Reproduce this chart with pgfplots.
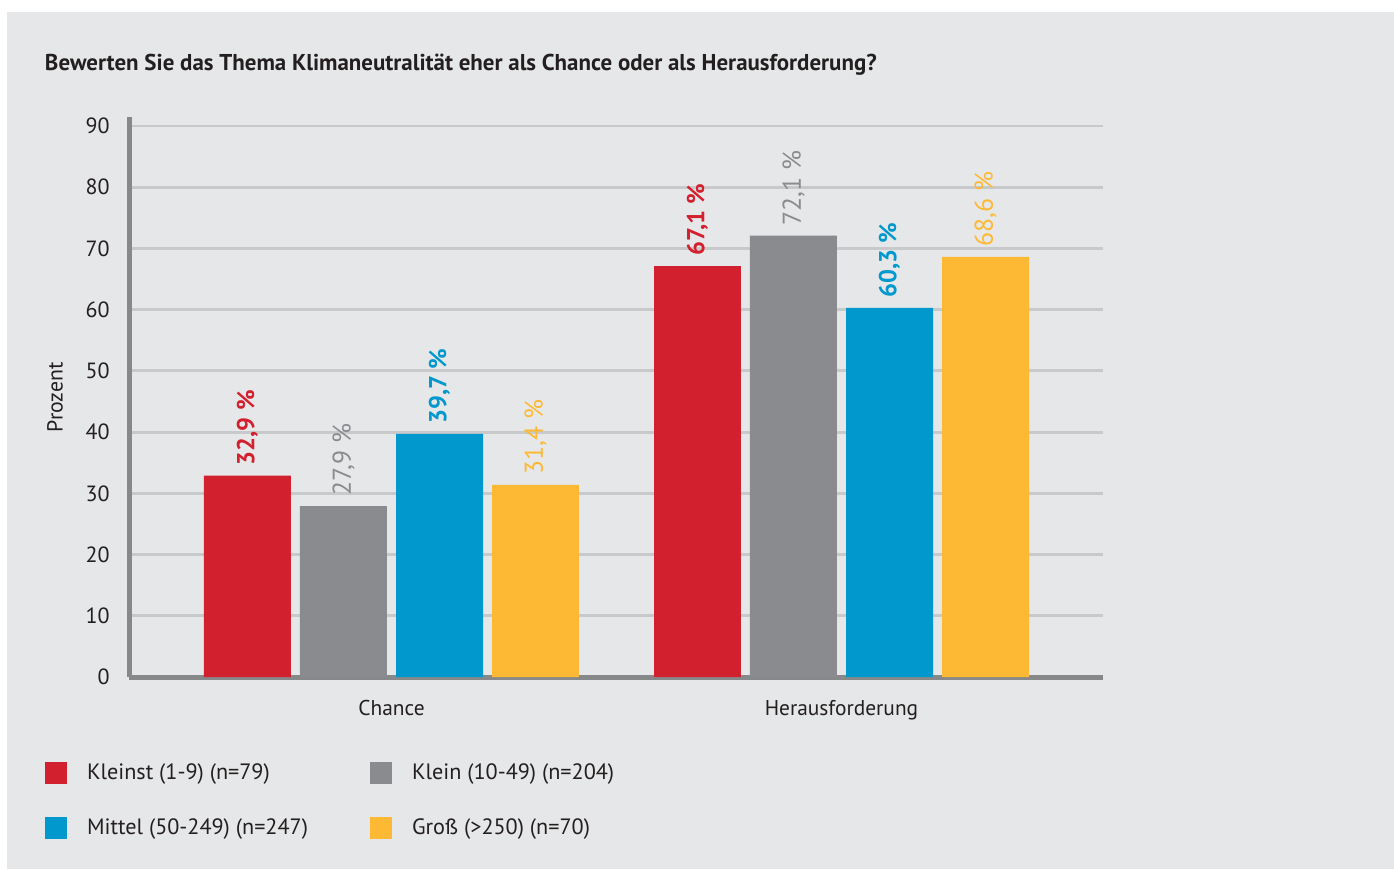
\documentclass[border=0pt]{standalone}
\usepackage{fontspec}
\setmainfont{PT Sans}
\usepackage{pgfplots}
\pgfplotsset{compat=1.18}
\definecolor{bg}{HTML}{E6E7E8}
\definecolor{cred}{HTML}{D2202F}
\definecolor{cgray}{HTML}{8A8B8E}
\definecolor{cblue}{HTML}{0098CD}
\definecolor{cyellow}{HTML}{FDB933}
\definecolor{gridc}{HTML}{C8C9CB}
\definecolor{axc}{HTML}{87888A}
\definecolor{txt}{HTML}{231F20}
\pgfplotsset{
  sqlegend/.style={legend image code/.code={\fill[##1] (0pt,-5.5pt) rectangle (11pt,5.5pt);}},
  vlabel/.style 2 args={nodes near coords={\pgfmathprintnumber[fixed,fixed zerofill,precision=1,use comma,assume math mode=true]{\pgfplotspointmeta}~\%},
    every node near coord/.append style={rotate=90, anchor=west, inner xsep=5pt, inner ysep=0pt, font=#2, text=#1}},
}
\begin{document}
\begin{tikzpicture}
\path[use as bounding box] (0,0) rectangle (697pt,434.5pt);
\fill[white] (0,0) rectangle (697pt,434.5pt);
\fill[bg] (3.5pt,0) rectangle (697pt,428.5pt);
\node[anchor=base west, inner sep=0pt, font=\fontsize{11.45}{13}\selectfont\bfseries, text=txt] at (22.3pt,399pt) {Bewerten Sie das Thema Klimaneutralität eher als Chance oder als Herausforderung?};
\begin{axis}[
  at={(64.5pt,96pt)}, anchor=south west,
  scale only axis, width=487pt, height=279.8pt,
  xmin=-0.5833, xmax=1.5811, ymin=0, ymax=91.4,
  axis x line*=bottom, axis y line*=left,
  axis line style={line width=2.5pt, axc},
  bar width=0.1933,
  xtick={0,1}, xticklabels={Chance,Herausforderung},
  ytick={0,10,...,90},
  major tick length=0pt,
  ymajorgrids, grid style={line width=1.4pt, gridc},
  /pgf/number format/assume math mode=true,
  yticklabel style={anchor=east, inner sep=0pt, xshift=-9.5pt, font=\fontsize{11}{13}\selectfont, text=txt},
  xticklabel style={anchor=base, inner sep=0pt, yshift=-19.3pt, font=\fontsize{10.7}{13}\selectfont, text=txt},
  ylabel={Prozent},
  ylabel style={at={(axis description cs:-0.076,0.5)}, anchor=center, font=\fontsize{10.9}{13}\selectfont, text=txt},
  legend columns=2,
  legend cell align=left,
  legend style={draw=none, fill=none, at={(-0.0862,-0.1524)}, anchor=north west, inner sep=0pt, outer sep=0pt,
    font=\fontsize{11.1}{13}\selectfont, text=txt, row sep=16.5pt, nodes={inner sep=0pt},
    /tikz/every odd column/.append style={column sep=10pt}},
  every axis plot post/.append style={sqlegend},
]
\addplot[ybar, fill=cred, draw=none, bar shift=0, vlabel={cred}{\fontsize{12.3}{14}\selectfont\bfseries}] coordinates {(-0.32,32.9) (0.68,67.1)};
\addlegendentry{\makebox[141.5pt][l]{Kleinst (1-9) (n=79)}}
\addplot[ybar, fill=cgray, draw=none, bar shift=0, vlabel={cgray}{\fontsize{12.9}{14}\selectfont}] coordinates {(-0.1067,27.9) (0.8933,72.1)};
\addlegendentry{Klein (10-49) (n=204)}
\addplot[ybar, fill=cblue, draw=none, bar shift=0, vlabel={cblue}{\fontsize{12.3}{14}\selectfont\bfseries}] coordinates {(0.1067,39.7) (1.1067,60.3)};
\addlegendentry{\makebox[141.5pt][l]{Mittel (50-249) (n=247)}}
\addplot[ybar, fill=cyellow, draw=none, bar shift=0, vlabel={cyellow}{\fontsize{12.9}{14}\selectfont}] coordinates {(0.32,31.4) (1.32,68.6)};
\addlegendentry{Groß (>250) (n=70)}
\end{axis}
\end{tikzpicture}
\end{document}
